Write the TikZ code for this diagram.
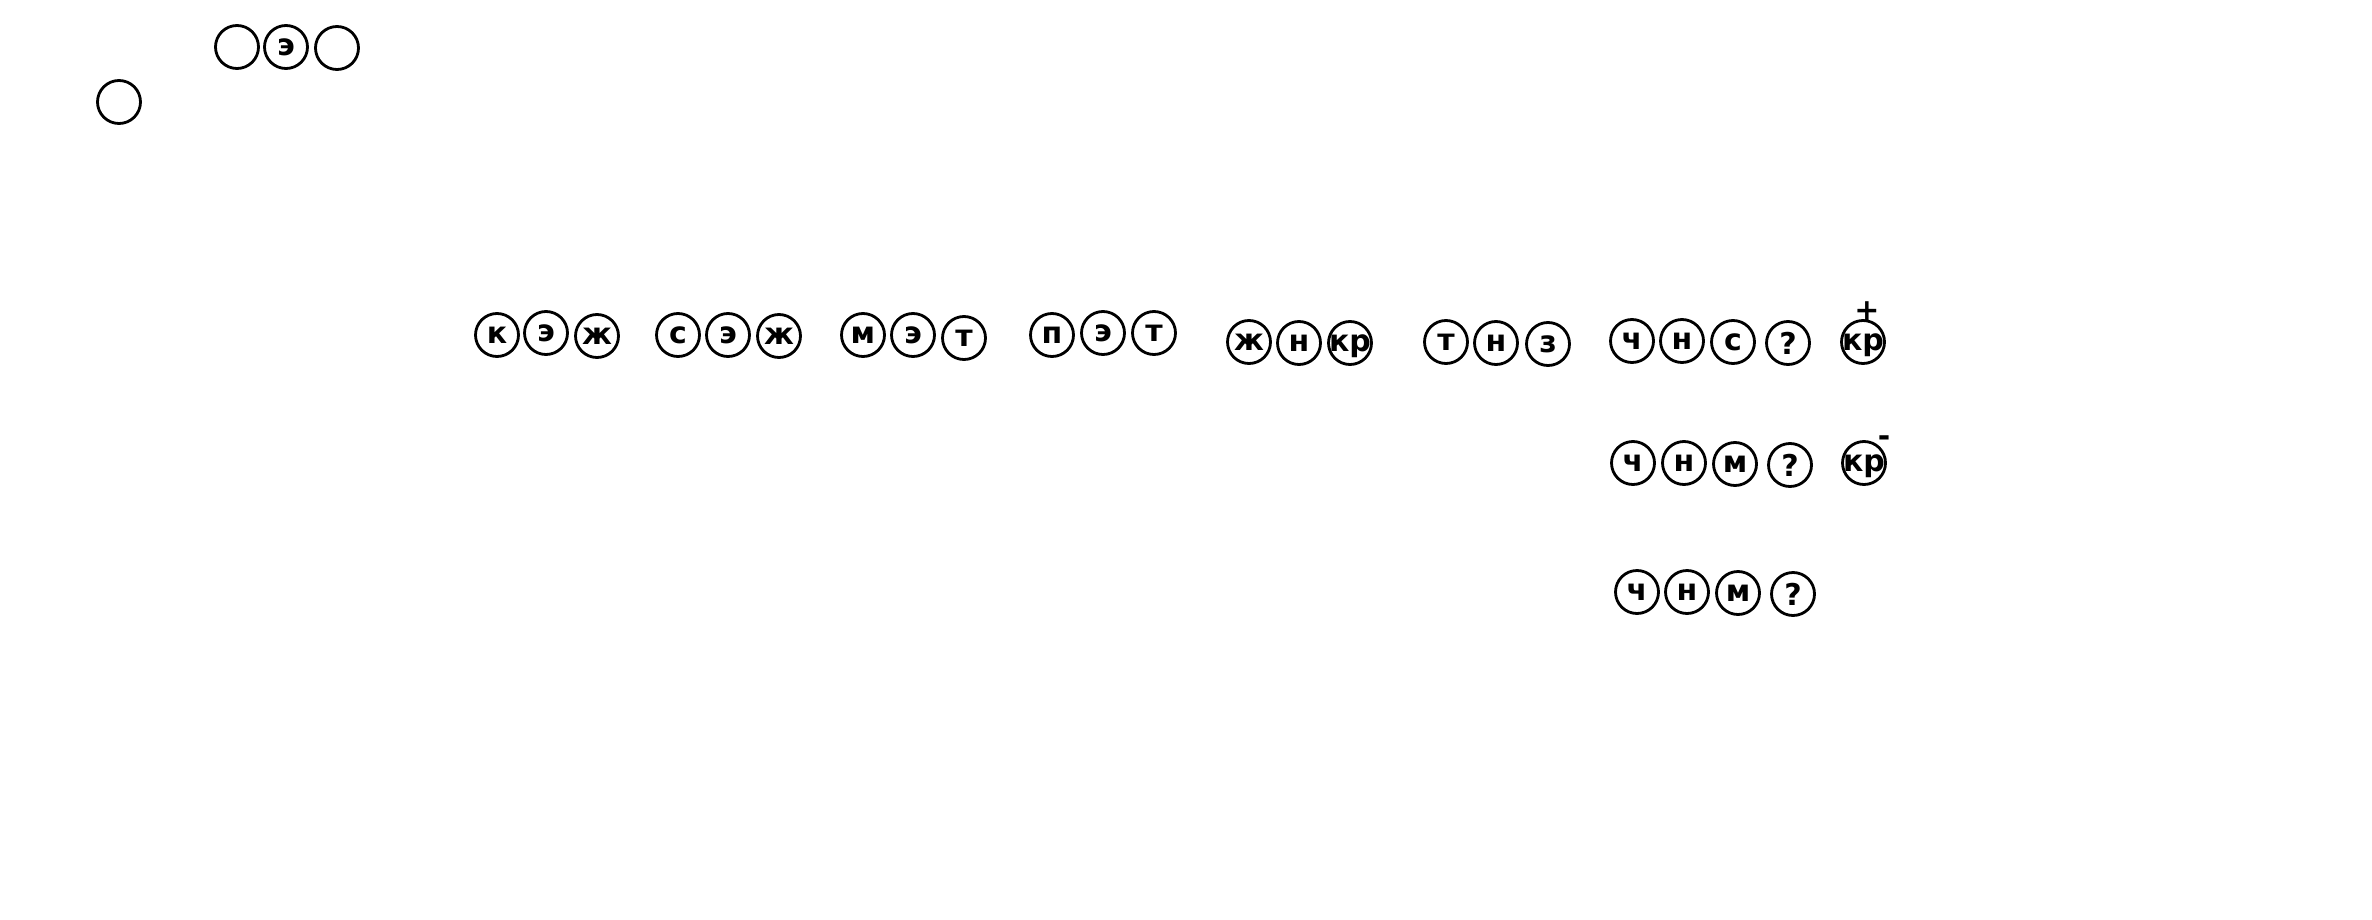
\documentclass[tikz,border=0pt]{standalone}
\usepackage{fontspec}
\setmainfont{DejaVu Sans}
\begin{document}
\begin{tikzpicture}[x = 0.5pt, y = -0.5pt, % one unit = one pixel
                line width = 1.4pt % line style
            ]

            \tikzstyle{every node}=[draw = black, circle, inner sep = 0pt,
            minimum size = 21.5pt, font = \fontsize{15}{17}\selectfont\bfseries]
            \tikzstyle{wide}=[text depth = 0pt] % keep "kr" on the centre
            \tikzstyle{sign}=[draw = none, minimum size = 0pt]

            \useasboundingbox (0,0) rectangle (2372,920);

            % top corner
            \node (o1) at (119,102) {}; \node (o2) at (237,47) {}; \node (o3)
            at (286,47) {э}; \node (o4) at (337,48) {};

            % first row
            \node (a1) at (497,335) {к}; \node (a2) at (546,333) {э}; \node
            (a3) at (597,336) {ж};
            \node (b1) at (678,335) {с}; \node (b2) at (728,335) {э}; \node
            (b3) at (779,336) {ж};
            \node (c1) at (863,335) {м}; \node (c2) at (913,335) {э}; \node
            (c3) at (964,338) {т};
            \node (d1) at (1052,335) {п}; \node (d2) at (1103,333) {э}; \node
            (d3) at (1154,333) {т};
            \node (e1) at (1249,342) {ж}; \node (e2) at (1299,343) {н}; \node
            (e3) [wide] at (1350,343) {\makebox[0pt]{кр}};
            \node (f1) at (1446,342) {т}; \node (f2) at (1496,343) {н}; \node
            (f3) at (1548,344) {з};

            % right block
            \node (g1) at (1632,341) {ч}; \node (g2) at (1682,341) {н}; \node
            (g3) at (1733,342) {с}; \node (g4) at (1788,343) {?};
            \node (h1) at (1633,463) {ч}; \node (h2) at (1684,463) {н}; \node
            (h3) at (1735,464) {м}; \node (h4) at (1790,465) {?};
            \node (i1) at (1637,592) {ч}; \node (i2) at (1687,592) {н}; \node
            (i3) at (1738,593) {м}; \node (i4) at (1793,594) {?};

            \node (kp) [wide] at (1863,342) {\makebox[0pt]{кр}}; \node[sign]
            (plus) at (1867,311) {+};
            \node (km) [wide] at (1864,463) {\makebox[0pt]{кр}}; \node[sign]
            (minus) at (1884,441) {-};
        \end{tikzpicture}
\end{document}
